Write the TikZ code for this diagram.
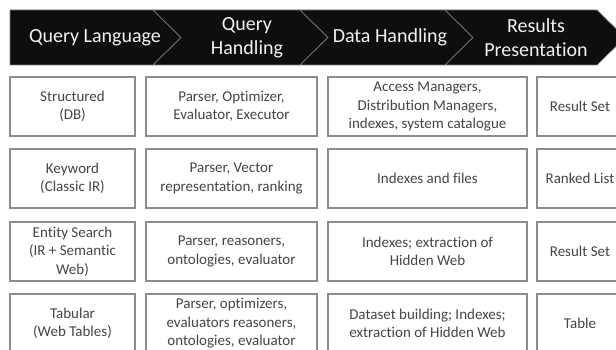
\documentclass[tikz,border=0pt]{standalone}
\usepackage{fontspec}
\setmainfont{Carlito}[Ligatures=NoCommon]
\definecolor{boxline}{HTML}{8C8C8C}
\definecolor{boxtext}{HTML}{454545}
\definecolor{banner}{HTML}{0E0E0E}
\definecolor{seam}{HTML}{7A7A7A}
\definecolor{headtext}{HTML}{F2F2F2}
\tikzset{
  chev/.style={fill=banner, draw=seam, line width=0.7pt, line join=miter},
  headlbl/.style={text=headtext, font=\fontsize{20}{23.5}\selectfont, align=center, inner sep=0pt},
  cell/.style={draw=boxline, line width=1.2pt, fill=white, text=boxtext,
    font=\fontsize{15}{18.5}\selectfont, align=center, minimum height=59pt, inner sep=0pt},
  c1/.style={cell, minimum width=125pt},
  c2/.style={cell, minimum width=171pt},
  c3/.style={cell, minimum width=199pt},
  c4/.style={cell, minimum width=86pt},
}
\begin{document}
\begin{tikzpicture}[x=1pt,y=-1pt]
\useasboundingbox (0,0) rectangle (616,350);
\clip (0,0) rectangle (616,350);
% banner
\draw[chev] (10,10) -- (153,10) -- (181,37.5) -- (153,65) -- (10,65) -- cycle;
\draw[chev] (153,10) -- (300,10) -- (328,37.5) -- (300,65) -- (153,65) -- (181,37.5) -- cycle;
\draw[chev] (300,10) -- (445,10) -- (473,37.5) -- (445,65) -- (300,65) -- (328,37.5) -- cycle;
\draw[chev] (445,10) -- (597,10) -- (625,37.5) -- (597,65) -- (445,65) -- (473,37.5) -- cycle;
\node[headlbl] (h1) at (95,37.5) {Query Language};
\node[headlbl] (h2) at (247,37.5) {Query\\Handling};
\node[headlbl] (h3) at (390,37.5) {Data Handling};
\node[headlbl] (h4) at (536,37.5) {Results\\Presentation};
% row 1
\node[c1] (r1c1) at (72.5,106.5) {Structured\\(DB)};
\node[c2] (r1c2) at (231.5,106.5) {Parser, Optimizer,\\Evaluator, Executor};
\node[c3] (r1c3) at (427.5,106.5) {Access Managers,\\Distribution Managers,\\indexes, system catalogue};
\node[c4] (r1c4) at (580,106.5) {Result Set};
% row 2
\node[c1] (r2c1) at (72.5,178.5) {Keyword\\(Classic IR)};
\node[c2] (r2c2) at (231.5,178.5) {Parser, Vector\\representation, ranking};
\node[c3] (r2c3) at (427.5,178.5) {Indexes and files};
\node[c4] (r2c4) at (580,178.5) {Ranked List};
% row 3
\node[c1] (r3c1) at (72.5,251.5) {Entity Search\\(IR + Semantic\\Web)};
\node[c2] (r3c2) at (231.5,251.5) {Parser, reasoners,\\ontologies, evaluator};
\node[c3] (r3c3) at (427.5,251.5) {Indexes; extraction of\\Hidden Web};
\node[c4] (r3c4) at (580,251.5) {Result Set};
% row 4
\node[c1] (r4c1) at (72.5,323.5) {Tabular\\(Web Tables)};
\node[c2] (r4c2) at (231.5,323.5) {Parser, optimizers,\\evaluators reasoners,\\ontologies, evaluator};
\node[c3] (r4c3) at (427.5,323.5) {Dataset building; Indexes;\\extraction of Hidden Web};
\node[c4] (r4c4) at (580,323.5) {Table};
\end{tikzpicture}
\end{document}
